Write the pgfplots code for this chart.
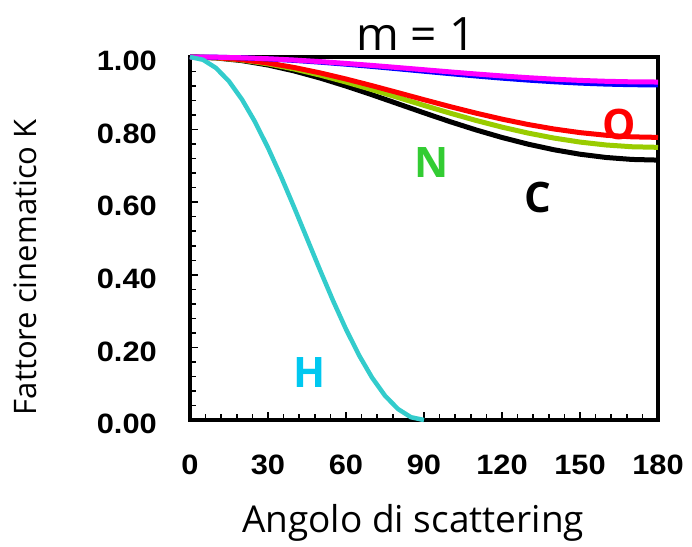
\documentclass[border=0pt]{standalone}
\usepackage{pgfplots}
\pgfplotsset{compat=1.18}
\usepackage{fontspec}
\setmainfont{Open Sans}
\newfontfamily\tickfont[FakeStretch=1.1]{Liberation Sans}
\newfontfamily\labelfont{Open Sans}
\definecolor{cC}{RGB}{0,0,0}
\definecolor{cN}{RGB}{153,204,0}
\definecolor{cO}{RGB}{255,0,0}
\definecolor{cB}{RGB}{0,0,255}
\definecolor{cM}{RGB}{255,0,255}
\definecolor{cH}{RGB}{51,204,204}
\definecolor{lH}{RGB}{0,200,240}
\definecolor{lN}{RGB}{51,204,51}
\begin{document}
\begin{tikzpicture}
\useasboundingbox (-190bp,-127bp) rectangle (502bp,420bp);
\begin{axis}[
  at={(0,0)}, anchor=south west,
  scale only axis, width=468bp, height=363bp,
  xmin=0, xmax=180, ymin=0, ymax=1,
  xtick={0,30,60,90,120,150,180},
  ytick={0,0.2,0.4,0.6,0.8,1},
  minor x tick num=4, minor y tick num=4,
  tick align=inside, xtick pos=bottom, ytick pos=left,
  major tick length=8bp, minor tick length=6bp,
  tick style={black, line width=1.5bp},
  axis line style={line width=4.5bp},
  clip=false,
  /pgf/number format/assume math mode=true,
  tick label style={font=\tickfont\bfseries\fontsize{28bp}{30bp}\selectfont, inner sep=0pt},
  yticklabel style={anchor=east, xshift=-33bp, yshift=-4bp, /pgf/number format/.cd, fixed, fixed zerofill, precision=2},
  xticklabel style={anchor=north, yshift=-35bp},
]
% C (black)
\addplot[cC, line width=5bp] coordinates {
(0,1) (10,0.99747) (20,0.98999) (30,0.97791) (40,0.96173) (50,0.94214) (60,0.91993)
(70,0.89596) (80,0.87109) (90,0.84615) (100,0.82193) (110,0.79912) (120,0.77829)
(130,0.75994) (140,0.74447) (150,0.73215) (160,0.72321) (170,0.71779) (180,0.71598)};
% N (yellow-green)
\addplot[cN, line width=5bp] coordinates {
(0,1) (10,0.99783) (20,0.99142) (30,0.98104) (40,0.96711) (50,0.95021) (60,0.93099)
(70,0.91017) (80,0.88849) (90,0.86667) (100,0.84538) (110,0.82524) (120,0.80679)
(130,0.79047) (140,0.77665) (150,0.76563) (160,0.75761) (170,0.75274) (180,0.75111)};
% O (red)
\addplot[cO, line width=5bp] coordinates {
(0,1) (10,0.99810) (20,0.99249) (30,0.98339) (40,0.97117) (50,0.95630) (60,0.93937)
(70,0.92097) (80,0.90175) (90,0.88235) (100,0.86337) (110,0.84536) (120,0.82880)
(130,0.81412) (140,0.80166) (150,0.79170) (160,0.78444) (170,0.78003) (180,0.77855)};
% blue
\addplot[cB, line width=5bp] coordinates {
(0,1) (10,0.99939) (20,0.99759) (30,0.99466) (40,0.99069) (50,0.98581) (60,0.98020)
(70,0.97402) (80,0.96748) (90,0.96078) (100,0.95413) (110,0.94773) (120,0.94176)
(130,0.93639) (140,0.93179) (150,0.92807) (160,0.92534) (170,0.92367) (180,0.92311)};
% magenta
\addplot[cM, line width=5bp] coordinates {
(0,1) (10,0.99946) (20,0.99785) (30,0.99523) (40,0.99168) (50,0.98732) (60,0.98230)
(70,0.97677) (80,0.97092) (90,0.96491) (100,0.95895) (110,0.95320) (120,0.94783)
(130,0.94301) (140,0.93887) (150,0.93552) (160,0.93306) (170,0.93156) (180,0.93105)};
% H (cyan)
\addplot[cH, line width=4.5bp] coordinates {
(0,1) (5,0.9924) (10,0.9698) (15,0.9330) (20,0.8830) (25,0.8214) (30,0.75)
(35,0.6710) (40,0.5868) (45,0.5) (50,0.4132) (55,0.3290) (60,0.25) (65,0.1786)
(70,0.1170) (75,0.0670) (80,0.0302) (85,0.0076) (90,0)};
% labels
\node[font=\labelfont\bfseries\fontsize{42bp}{44bp}\selectfont, text=cO] at (axis cs:165,0.813) {O};
\node[font=\labelfont\bfseries\fontsize{42bp}{44bp}\selectfont, text=lN] at (axis cs:93.1,0.708) {N};
\node[font=\labelfont\bfseries\fontsize{42bp}{44bp}\selectfont, text=black] at (axis cs:133.8,0.612) {C};
\node[font=\labelfont\bfseries\fontsize{42bp}{44bp}\selectfont, text=lH] at (axis cs:45.8,0.132) {H};
\node[font=\labelfont\fontsize{46bp}{48bp}\selectfont, anchor=base] at (axis cs:86.9,1.019) {m = 1};
\node[font=\labelfont\fontsize{37bp}{39bp}\selectfont, anchor=base] at (axis cs:85.8,-0.309) {Angolo di scattering};
\node[font=\labelfont\fontsize{31bp}{33bp}\selectfont, rotate=90, anchor=center] at (axis cs:-63.5,0.421) {Fattore cinematico K};
\end{axis}
\end{tikzpicture}
\end{document}
